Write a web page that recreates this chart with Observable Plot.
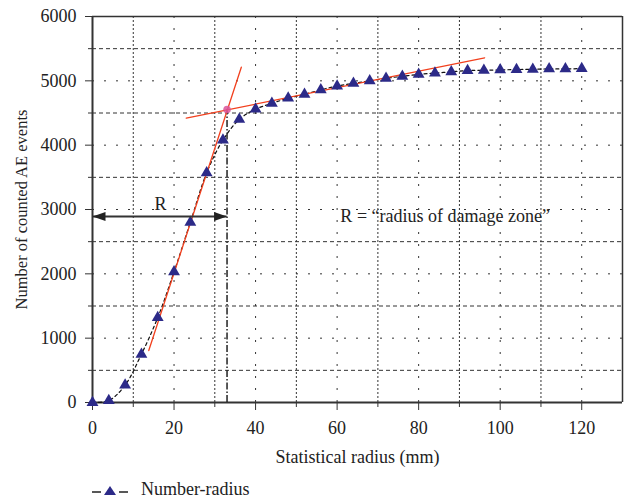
<!DOCTYPE html>
<html>
<head>
<meta charset="utf-8">
<script src="https://cdn.jsdelivr.net/npm/d3@7"></script>
<script src="https://cdn.jsdelivr.net/npm/@observablehq/plot@0.6"></script>
<style>
  body { margin: 0; background: #fff; font-family: "Liberation Serif", "DejaVu Serif", serif; }
  #legend { position: relative; height: 32px; font-size: 18px; color: #222; }
  #legend svg { position: absolute; left: 91px; top: 10px; }
  #legend span { position: absolute; left: 141px; top: 9px; line-height: 20px; }
</style>
</head>
<body>
<div id="chart"></div>
<div id="legend"></div>
<script>
// Data
const radius = [0,4,8,12,16,20,24,28,32,36,40,44,48,52,56,60,64,68,72,76,80,84,88,92,96,100,104,108,112,116,120];
const counts = [0,30,270,750,1320,2030,2800,3570,4080,4400,4560,4650,4730,4790,4860,4920,4960,5000,5040,5070,5100,5120,5140,5160,5165,5170,5175,5180,5185,5185,5190];

// tangent (fit) lines
const fitSteepX = [13.8, 36.5];
const fitSteepY = [808, 5212];
const fitFlatX = [23.0, 96.2];
const fitFlatY = [4420, 5358];
// intersection point
const crossX = [33.0];
const crossY = [4555];
// damage-zone radius arrow
const arrowY = [2890];
const arrowX = [0, 33.0];
const seriesName = "Number-radius";
const yLabel = "Number of counted AE events";
const xLabel = "Statistical radius (mm)";

// tick labels / grid
const xMajorTicks = [0,20,40,60,80,100,120];
const xMinorTicks = [10,30,50,70,90,110];
const yMajorTicks = [0,1000,2000,3000,4000,5000,6000];
const yMinorTicks = [500,1500,2500,3500,4500,5500];
const gridXOdd = [10,30,50,70,90,110];
const gridXEven = [20,40,60,80,100,120];
const gridYOdd = [500,1500,2500,3500,4500,5500];
const gridYEven = [1000,2000,3000,4000,5000];

const series = radius.map((r, i) => ({r, n: counts[i]}));
const fitLines = [
  ...fitSteepX.map((x, i) => ({x, y: fitSteepY[i], k: "steep"})),
  ...fitFlatX.map((x, i) => ({x, y: fitFlatY[i], k: "flat"}))
];
const cross = crossX.map((x, i) => ({x, y: crossY[i]}));

const triColor = "#2c2a88";
const redColor = "#f2401e";

// filled arrowheads as custom symbols (tip at the point)
const headRight = {draw(ctx) { ctx.moveTo(0, 0); ctx.lineTo(-13, -4.5); ctx.lineTo(-13, 4.5); ctx.closePath(); }};
const headLeft = {draw(ctx) { ctx.moveTo(0, 0); ctx.lineTo(13, -4.5); ctx.lineTo(13, 4.5); ctx.closePath(); }};

const chart = Plot.plot({
  width: 624,
  height: 470,
  marginLeft: 92,
  marginRight: 2,
  marginTop: 16,
  marginBottom: 68,
  style: {fontFamily: "Liberation Serif, DejaVu Serif, serif", fontSize: "18px", color: "#222", background: "#fff"},
  x: {domain: [0, 130]},
  y: {domain: [0, 6000]},
  marks: [
    // grid
    Plot.ruleX(gridXOdd, {stroke: "#333", strokeWidth: 1, strokeDasharray: "2,2"}),
    Plot.ruleX(gridXEven, {stroke: "#333", strokeWidth: 1, strokeDasharray: "2,10"}),
    Plot.ruleY(gridYOdd, {stroke: "#333", strokeWidth: 1, strokeDasharray: "4,3"}),
    Plot.ruleY(gridYEven, {stroke: "#333", strokeWidth: 1, strokeDasharray: "2,10"}),
    // frame
    Plot.ruleY([6000], {stroke: "#333", strokeWidth: 1.5}),
    Plot.ruleX([130], {stroke: "#333", strokeWidth: 1.5}),
    // axes
    Plot.axisY(yMajorTicks, {tickSize: 7, tickPadding: 9, fontSize: 18, tickFormat: "d", stroke: "#333", label: null}),
    Plot.axisY(yMinorTicks, {tickSize: 4, text: null, stroke: "#333", label: null}),
    Plot.axisX(xMajorTicks, {tickSize: 8, tickPadding: 11, fontSize: 18, tickFormat: "d", stroke: "#333", label: xLabel, labelAnchor: "center", labelOffset: 60, labelArrow: "none"}),
    Plot.axisX(xMinorTicks, {tickSize: 5, text: null, stroke: "#333", label: null}),
    Plot.text([yLabel], {frameAnchor: "left", textAnchor: "middle", lineAnchor: "middle", dx: -70.5, rotate: -90, fontSize: 16.5, fill: "#222"}),
    Plot.ruleX([0], {stroke: "#333", strokeWidth: 2}),
    Plot.ruleY([0], {stroke: "#333", strokeWidth: 2}),
    // damage radius dash-dot marker
    Plot.ruleX(crossX, {y1: 0, y2: crossY[0], stroke: "#222", strokeWidth: 1.5, strokeDasharray: "7,2,1.5,2"}),
    // series
    Plot.line(series, {x: "r", y: "n", stroke: "#111", strokeWidth: 1.2, strokeDasharray: "3,3", curve: "catmull-rom"}),
    // fit lines
    Plot.line(fitLines, {x: "x", y: "y", z: "k", stroke: redColor, strokeWidth: 1.3}),
    Plot.dot(series, {x: "r", y: "n", symbol: "triangle", r: 4.4, fill: triColor}),
    Plot.dot(cross, {x: "x", y: "y", r: 3.8, fill: "#d9559a", fillOpacity: 0.85}),
    // arrow
    Plot.ruleY(arrowY, {x1: arrowX[0], x2: arrowX[1], stroke: "#333", strokeWidth: 2}),
    Plot.dot([{x: arrowX[0], y: arrowY[0]}], {x: "x", y: "y", symbol: headLeft, fill: "#222", r: 4}),
    Plot.dot([{x: arrowX[1], y: arrowY[0]}], {x: "x", y: "y", symbol: headRight, fill: "#222", r: 4}),
    // annotations
    Plot.text(["R"], {x: 16.7, y: 3080, fontSize: 18, fill: "#222"}),
    Plot.text(["R = \u201Cradius of damage zone\u201D"], {x: 86.5, y: 2900, fontSize: 18, fill: "#222"})
  ]
});
document.getElementById("chart").appendChild(chart);

// legend
const lg = document.getElementById("legend");
lg.innerHTML = `<svg width="40" height="20">
  <line x1="1" y1="12" x2="10" y2="12" stroke="#111" stroke-width="1.4"/>
  <line x1="28" y1="12" x2="37" y2="12" stroke="#111" stroke-width="1.4"/>
  <path d="M19,6 L25,15 L13,15 Z" fill="${triColor}"/>
</svg><span>${seriesName}</span>`;
</script>
</body>
</html>
